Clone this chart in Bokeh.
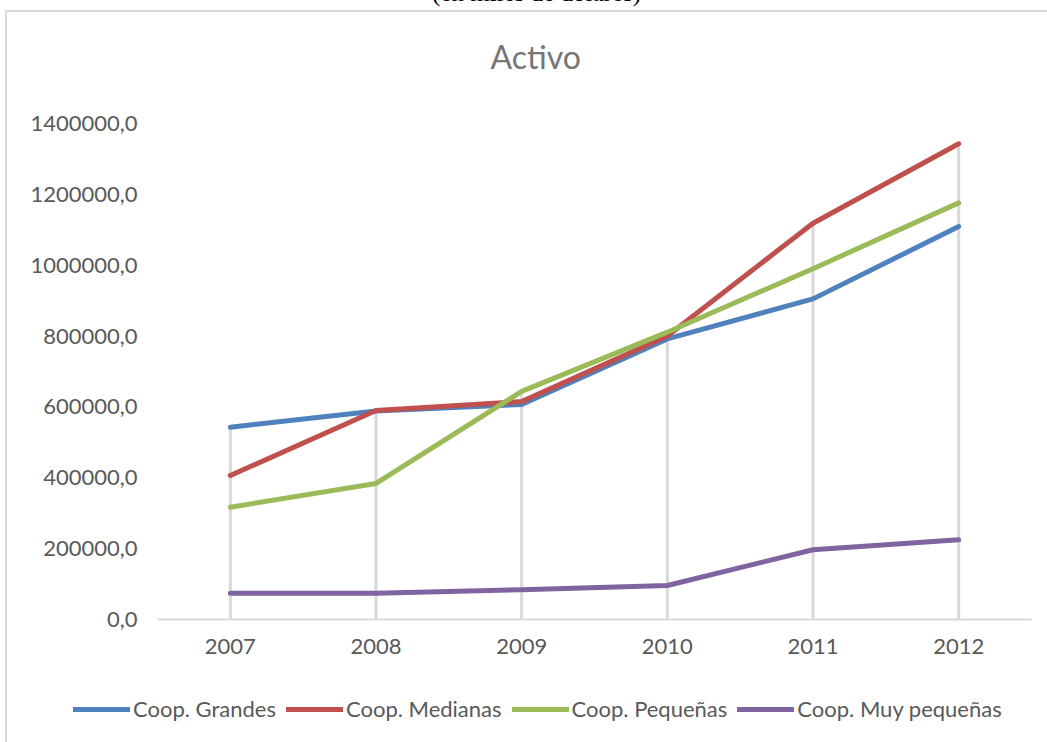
from bokeh.plotting import figure
from bokeh.models import FixedTicker, Legend, LegendItem, Div, Title
from bokeh.layouts import column
from bokeh.embed import file_html
from bokeh.resources import INLINE

# Activo por tamaño de cooperativa (miles de dólares)
years = [2007, 2008, 2009, 2010, 2011, 2012]
grandes = [542800, 588500, 606900, 792000, 905000, 1109000]
medianas = [406500, 590000, 615000, 800000, 1118600, 1342700]
pequenas = [317000, 384000, 644000, 811000, 990000, 1176000]
muy_pequenas = [74000, 74000, 84000, 96000, 197000, 225000]

series_names = ["Coop. Grandes", "Coop. Medianas", "Coop. Pequeñas", "Coop. Muy pequeñas"]
series_values = [grandes, medianas, pequenas, muy_pequenas]
series_colors = ["#4F81BD", "#C0504D", "#9BBB59", "#8064A2"]

y_ticks = [0, 200000, 400000, 600000, 800000, 1000000, 1200000, 1400000]
y_tick_labels = ["0,0", "200000,0", "400000,0", "600000,0", "800000,0",
                 "1000000,0", "1200000,0", "1400000,0"]

FONT = "Lato"
LABEL_COLOR = "#595959"

p = figure(width=1040, height=680, output_backend="svg", toolbar_location=None,
           x_range=(years[0] - 0.5, years[-1] + 0.5), y_range=(0, 1400000),
           min_border_left=150, min_border_right=16,
           min_border_top=111, min_border_bottom=73)

p.outline_line_color = None
p.xgrid.grid_line_color = None
p.ygrid.grid_line_color = None
p.background_fill_color = "white"
p.border_fill_color = "white"

# gap between the plot area and the chart title
p.add_layout(Title(text=" ", text_font_size="1px", standoff=45), "above")
# chart title
p.add_layout(Title(text="Activo", text_font=FONT, text_font_size="32px",
                   text_font_style="normal", text_color="#767676",
                   align="left", offset=333, standoff=0), "above")

# x axis: category years
p.xaxis.ticker = FixedTicker(ticks=years)
p.xaxis.axis_line_color = "#d9d9d9"
p.xaxis.axis_line_width = 2
p.xaxis.major_tick_line_color = None
p.xaxis.minor_tick_line_color = None
p.xaxis.major_tick_out = 0
p.xaxis.major_label_text_font = FONT
p.xaxis.major_label_text_font_size = "22px"
p.xaxis.major_label_text_color = LABEL_COLOR
p.xaxis.major_label_standoff = 19

# y axis: values with decimal comma
p.yaxis.ticker = FixedTicker(ticks=y_ticks)
p.yaxis.major_label_overrides = {t: s for t, s in zip(y_ticks, y_tick_labels)}
p.yaxis.axis_line_color = None
p.yaxis.major_tick_line_color = None
p.yaxis.minor_tick_line_color = None
p.yaxis.major_tick_out = 0
p.yaxis.major_label_text_font = FONT
p.yaxis.major_label_text_font_size = "22px"
p.yaxis.major_label_text_color = LABEL_COLOR
p.yaxis.major_label_standoff = 20

# drop lines from the highest value of each year down to the axis
tops = [max(vals) for vals in zip(*series_values)]
p.segment(x0=years, y0=[0] * len(years), x1=years, y1=tops,
          line_color="#d9d9d9", line_width=3)

for vals, color in zip(series_values, series_colors):
    p.line(years, vals, line_color=color, line_width=5,
           line_cap="round", line_join="round")

# legend strip under the chart; its own lines sit outside its (0, 1) ranges,
# only their legend swatches are seen
lg = figure(width=1040, height=50, output_backend="svg", toolbar_location=None,
            x_range=(0, 1), y_range=(0, 1),
            min_border_left=0, min_border_right=0, min_border_top=0, min_border_bottom=0)
lg.frame_align = False
lg.axis.visible = False
lg.grid.visible = False
lg.outline_line_color = None
lg.background_fill_color = "white"
lg.border_fill_color = "white"

items = []
for name, vals, color in zip(series_names, series_values, series_colors):
    r = lg.line(years, vals, line_color=color, line_width=5, line_cap="round")
    items.append(LegendItem(label=name, renderers=[r]))

legend = Legend(items=items, orientation="horizontal", location=(66, 20),
                label_text_font=FONT, label_text_font_size="22px",
                label_text_color=LABEL_COLOR, glyph_width=57, glyph_height=22,
                label_standoff=3, spacing=10, padding=0, margin=0,
                border_line_color=None, background_fill_alpha=0)
lg.add_layout(legend, "center")

chart = column(p, lg, spacing=0,
               styles={"margin-left": "5px",
                       "border-left": "2px solid #d9d9d9",
                       "border-top": "2px solid #d9d9d9"})

caption = Div(width=1047, height=10, margin=0, styles={"overflow": "hidden"},
              text='<div style="position:relative; top:-20px; width:1047px; '
                   'padding-left:26px; box-sizing:border-box; text-align:center; '
                   'font-family:\'Liberation Serif\'; font-size:25px; line-height:25px; '
                   'color:#000;">(en miles de dólares)</div>')

layout = column(caption, chart, spacing=0)
open("out.html", "w").write(file_html(layout, INLINE))
